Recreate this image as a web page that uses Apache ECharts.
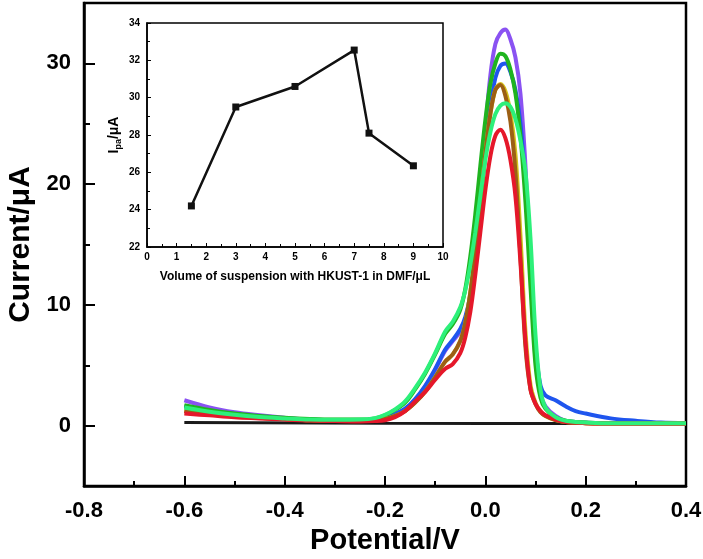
<!DOCTYPE html>
<html><head><meta charset="utf-8">
<script src="https://cdn.jsdelivr.net/npm/echarts@6/dist/echarts.min.js"></script>
<style>html,body{margin:0;padding:0;background:#fff}#c{width:703px;height:559px}</style>
</head><body><div id="c"></div>
<script>
// ---- main chart data (Potential / V vs Current / uA) ----
const potential = [-0.6,-0.55,-0.5,-0.45,-0.4,-0.35,-0.3,-0.25,-0.22,-0.2,-0.18,-0.16,-0.14,-0.12,-0.1,-0.08,-0.065,-0.05,-0.04,-0.03,-0.02,-0.01,0,0.01,0.02,0.03,0.04,0.05,0.06,0.07,0.08,0.09,0.1,0.11,0.12,0.14,0.16,0.18,0.2,0.25,0.3,0.35,0.4];
const purpleCurrent = [2.1,1.5,1.1,0.85,0.65,0.5,0.45,0.45,0.5,0.6,0.85,1.3,2.1,3.2,4.6,6.2,7.0,7.8,8.8,10.5,14,19,24.5,29,31.6,32.5,32.8,32.0,30.5,27.5,21.5,13,5.5,2.6,1.6,0.8,0.4,0.3,0.25,0.2,0.2,0.2,0.2];
const blueCurrent = [1.6,1.2,0.95,0.75,0.6,0.5,0.45,0.45,0.5,0.65,0.95,1.4,2.2,3.3,4.7,6.3,7.1,8.0,9.0,10.8,14,18,22.5,26.3,28.8,29.8,30.0,29.3,27.8,25,20,13,6.5,3.3,2.5,2.1,1.6,1.2,1.0,0.6,0.4,0.25,0.2];
const greenCurrent = [1.7,1.3,1.0,0.8,0.65,0.55,0.5,0.5,0.6,0.85,1.3,1.9,3.0,4.3,5.9,7.6,8.4,9.6,11.3,14,17.5,21.5,25.3,28.3,30.0,30.8,30.6,29.5,27.5,24,18.5,11.5,5,2.3,1.4,0.7,0.4,0.3,0.25,0.2,0.2,0.2,0.2];
const yellowCurrent = [1.2,0.95,0.8,0.65,0.55,0.45,0.4,0.4,0.45,0.55,0.8,1.2,1.9,2.8,4.0,5.3,5.9,7.0,8.5,11,14.5,18.5,22.5,25.8,27.8,28.3,27.7,25.9,22.5,15.8,7.8,3.4,1.9,1.15,0.8,0.45,0.3,0.25,0.2,0.18,0.17,0.17,0.17];
const brownCurrent = [1.2,0.95,0.8,0.65,0.55,0.45,0.4,0.4,0.45,0.55,0.8,1.2,1.9,2.8,4.0,5.3,5.9,7.0,8.5,11,14.5,18.5,22.5,25.8,27.8,28.2,27.3,25.2,21,14,6.5,3.0,1.8,1.1,0.8,0.45,0.3,0.25,0.2,0.18,0.17,0.17,0.17];
const redCurrent = [1.0,0.85,0.7,0.6,0.5,0.42,0.38,0.35,0.38,0.45,0.7,1.2,2.0,2.8,3.8,4.7,5.1,6.0,7.3,9.4,12.5,16,19.5,22.3,24,24.5,23.8,22,19,13.5,7,3.0,1.8,1.2,0.85,0.5,0.3,0.25,0.2,0.18,0.17,0.17,0.17];
const springCurrent = [1.5,1.15,0.9,0.72,0.6,0.5,0.48,0.5,0.62,0.9,1.35,2.0,3.1,4.4,6.0,7.8,8.6,9.8,11.2,13.3,16,19,22,24.3,25.8,26.5,26.7,26.4,25.4,23.6,21,15.5,7.5,3.0,1.5,0.7,0.4,0.3,0.25,0.2,0.2,0.2,0.2];
const blankPotential = [-0.6,-0.2,0,0.2,0.4];
const blankCurrent = [0.25,0.2,0.18,0.17,0.15];
const yMajorTicks = [0,10,20,30];
const yMinorTicks = [-5,5,15,25];
// ---- inset data ----
const insetVolume = [1.5,3,5,7,7.5,9];
const insetIpa = [24.2,29.5,30.6,32.55,28.1,26.35];

const F = "'Liberation Sans', Arial, sans-serif";
const chart = echarts.init(document.getElementById('c'), null, {renderer:'canvas'});
function pairs(xs, ys){ return xs.map((x,i)=>[x, ys[i]]); }
const curves = [
  {c:'#8a52f2', d:purpleCurrent},
  {c:'#1f55ee', d:blueCurrent},
  {c:'#1fb41f', d:greenCurrent},
  {c:'#d6c21c', d:yellowCurrent},
  {c:'#9c5f14', d:brownCurrent},
  {c:'#e5182a', d:redCurrent},
  {c:'#2df07a', d:springCurrent}
];
const series = [{
  type:'line', xAxisIndex:0, yAxisIndex:0, data:pairs(blankPotential, blankCurrent),
  symbol:'none', lineStyle:{color:'#1a1a1a', width:3}, itemStyle:{color:'#1a1a1a'}
}].concat(curves.map(s=>({
  type:'line', xAxisIndex:0, yAxisIndex:0, data:pairs(potential, s.d),
  symbol:'none', smooth:0.35,
  lineStyle:{color:s.c, width:4}, itemStyle:{color:s.c}
}))).concat([{
  type:'line', xAxisIndex:1, yAxisIndex:2, data:pairs(insetVolume, insetIpa),
  symbol:'rect', symbolSize:7, lineStyle:{color:'#111', width:2.5}, itemStyle:{color:'#111'}
}]);

const axisBlack = {onZero:false, lineStyle:{color:'#000', width:2.5}};
chart.setOption({
  animation:false,
  backgroundColor:'#fff',
  grid:[
    {left:84, top:3, right:17, bottom:73, show:true, borderColor:'#000', borderWidth:2.5, outerBoundsMode:'none', containLabel:false},
    {left:147, top:23, width:296, height:224, show:true, borderColor:'#000', borderWidth:1.5, outerBoundsMode:'none', containLabel:false}
  ],
  xAxis:[
    {gridIndex:0, type:'value', min:-0.8, max:0.4, interval:0.2, position:'bottom',
     axisLine:axisBlack, splitLine:{show:false},
     axisTick:{inside:true, length:10, lineStyle:{color:'#000', width:2}},
     minorTick:{show:true, splitNumber:2, length:5, lineStyle:{color:'#000', width:2}},
     axisLabel:{formatter:v=>v.toFixed(1), fontFamily:F, fontSize:22, fontWeight:'bold', color:'#000', margin:14},
     name:'Potential/V', nameLocation:'middle', nameGap:36,
     nameTextStyle:{fontFamily:F, fontSize:29, fontWeight:'bold', color:'#000'}},
    {gridIndex:1, type:'value', min:0, max:10, interval:1, position:'bottom',
     axisLine:{onZero:false, lineStyle:{color:'#000', width:1.5}}, splitLine:{show:false},
     axisTick:{inside:true, length:4, lineStyle:{color:'#000', width:1}},
     minorTick:{show:true, splitNumber:2, length:3, lineStyle:{color:'#000', width:1}},
     axisLabel:{fontFamily:F, fontSize:10, fontWeight:'bold', color:'#000', margin:5},
     name:'Volume of suspension with HKUST-1 in DMF/μL', nameLocation:'middle', nameGap:24,
     nameTextStyle:{fontFamily:F, fontSize:12, fontWeight:'bold', color:'#000'}}
  ],
  yAxis:[
    {gridIndex:0, type:'value', min:-5, max:35, position:'left',
     axisLine:axisBlack, splitLine:{show:false},
     axisTick:{inside:true, length:11, customValues:yMajorTicks, lineStyle:{color:'#000', width:2}},
     axisLabel:{customValues:yMajorTicks, fontFamily:F, fontSize:22, fontWeight:'bold', color:'#000', margin:13},
     name:'Current/μA', nameLocation:'middle', nameRotate:90, nameGap:48,
     nameTextStyle:{fontFamily:F, fontSize:30, fontWeight:'bold', color:'#000'}},
    {gridIndex:0, type:'value', min:-5, max:35, position:'left', offset:0,
     axisLine:{show:false, onZero:false}, splitLine:{show:false},
     axisTick:{inside:true, length:6, customValues:yMinorTicks, lineStyle:{color:'#000', width:2}},
     axisLabel:{show:false}},
    {gridIndex:1, type:'value', min:22, max:34, interval:2, position:'left',
     axisLine:{onZero:false, lineStyle:{color:'#000', width:1.5}}, splitLine:{show:false},
     axisTick:{inside:true, length:4, lineStyle:{color:'#000', width:1}},
     minorTick:{show:true, splitNumber:2, length:3, lineStyle:{color:'#000', width:1}},
     axisLabel:{fontFamily:F, fontSize:10, fontWeight:'bold', color:'#000', margin:7},
     name:'{a|I}{b|pa}{a|/μA}', nameLocation:'middle', nameRotate:90, nameGap:24,
     nameTextStyle:{fontFamily:F, fontWeight:'bold', color:'#000',
       rich:{a:{fontFamily:F, fontSize:14, fontWeight:'bold', lineHeight:18, verticalAlign:'middle', color:'#000'},
             b:{fontFamily:F, fontSize:9, fontWeight:'bold', lineHeight:9, verticalAlign:'bottom', color:'#000'}}}}
  ],
  series: series
});
</script></body></html>
